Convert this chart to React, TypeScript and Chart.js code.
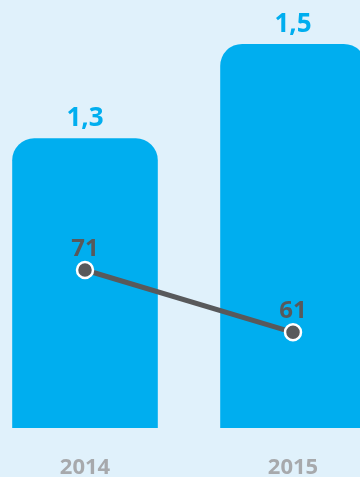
import React, { useEffect, useRef } from "react";
import { Chart, registerables } from "chart.js";

Chart.register(...registerables);

const categories = ["2014", "2015"];
const barValues = [1.3, 1.5];
const barLabels = ["1,3", "1,5"];
const lineValues = [71, 61];
const lineLabels = ["71", "61"];

const BG = "#e0f1fb";
const BLUE = "#00aeef";
const GRAY = "#58595b";
const AXIS_GRAY = "#a7a9ac";
const FONT = "'Open Sans', 'DejaVu Sans', sans-serif";

const valueLabels = {
  id: "valueLabels",
  afterDatasetsDraw(chart: any) {
    const ctx = chart.ctx;
    ctx.save();
    ctx.textAlign = "center";
    ctx.textBaseline = "alphabetic";
    const barMeta = chart.getDatasetMeta(0);
    ctx.font = `bold 26px ${FONT}`;
    ctx.fillStyle = BLUE;
    barMeta.data.forEach((el: any, i: number) => {
      ctx.fillText(barLabels[i], el.x, el.y - 12);
    });
    const lineMeta = chart.getDatasetMeta(1);
    ctx.font = `bold 24px ${FONT}`;
    ctx.fillStyle = GRAY;
    lineMeta.data.forEach((el: any, i: number) => {
      ctx.fillText(lineLabels[i], el.x, el.y - 14);
    });
    ctx.restore();
  },
};

export default function App() {
  const ref = useRef<HTMLCanvasElement | null>(null);

  useEffect(() => {
    if (!ref.current) return;
    const chart = new Chart(ref.current, {
      type: "bar",
      data: {
        labels: categories,
        datasets: [
          {
            type: "bar",
            data: barValues,
            backgroundColor: BLUE,
            borderWidth: 0,
            borderRadius: { topLeft: 22, topRight: 22, bottomLeft: 0, bottomRight: 0 },
            borderSkipped: "start",
            barPercentage: 0.7,
            categoryPercentage: 1,
            yAxisID: "y",
            order: 2,
          } as any,
          {
            type: "line",
            data: lineValues,
            borderColor: GRAY,
            borderWidth: 5,
            pointRadius: 8,
            pointBorderWidth: 2.5,
            pointBackgroundColor: GRAY,
            pointBorderColor: "#ffffff",
            tension: 0,
            yAxisID: "y2",
            order: 1,
          } as any,
        ],
      },
      options: {
        animation: false,
        responsive: false,
        devicePixelRatio: 1,
        layout: { padding: 0, autoPadding: false },
        plugins: {
          legend: { display: false },
          tooltip: { enabled: false },
          title: { display: false },
        },
        scales: {
          x: {
            type: "category",
            offset: true,
            grid: { display: false, drawTicks: false },
            border: { display: false },
            ticks: {
              color: AXIS_GRAY,
              font: { family: FONT, size: 22, weight: "bold" },
              padding: 26.8,
            },
          },
          y: { display: false, min: 0.686, max: 1.593 },
          y2: { display: false, min: 45.64, max: 114.34 },
        },
      },
      plugins: [valueLabels],
    } as any);
    return () => chart.destroy();
  }, []);

  return (
    <div
      style={{
        position: "fixed",
        left: 0,
        top: 0,
        width: 360,
        height: 477,
        overflow: "hidden",
        background: BG,
      }}
    >
      <canvas
        ref={ref}
        width={416}
        height={508}
        style={{ position: "absolute", left: -19, top: 0, width: 416, height: 508 }}
      />
    </div>
  );
}
